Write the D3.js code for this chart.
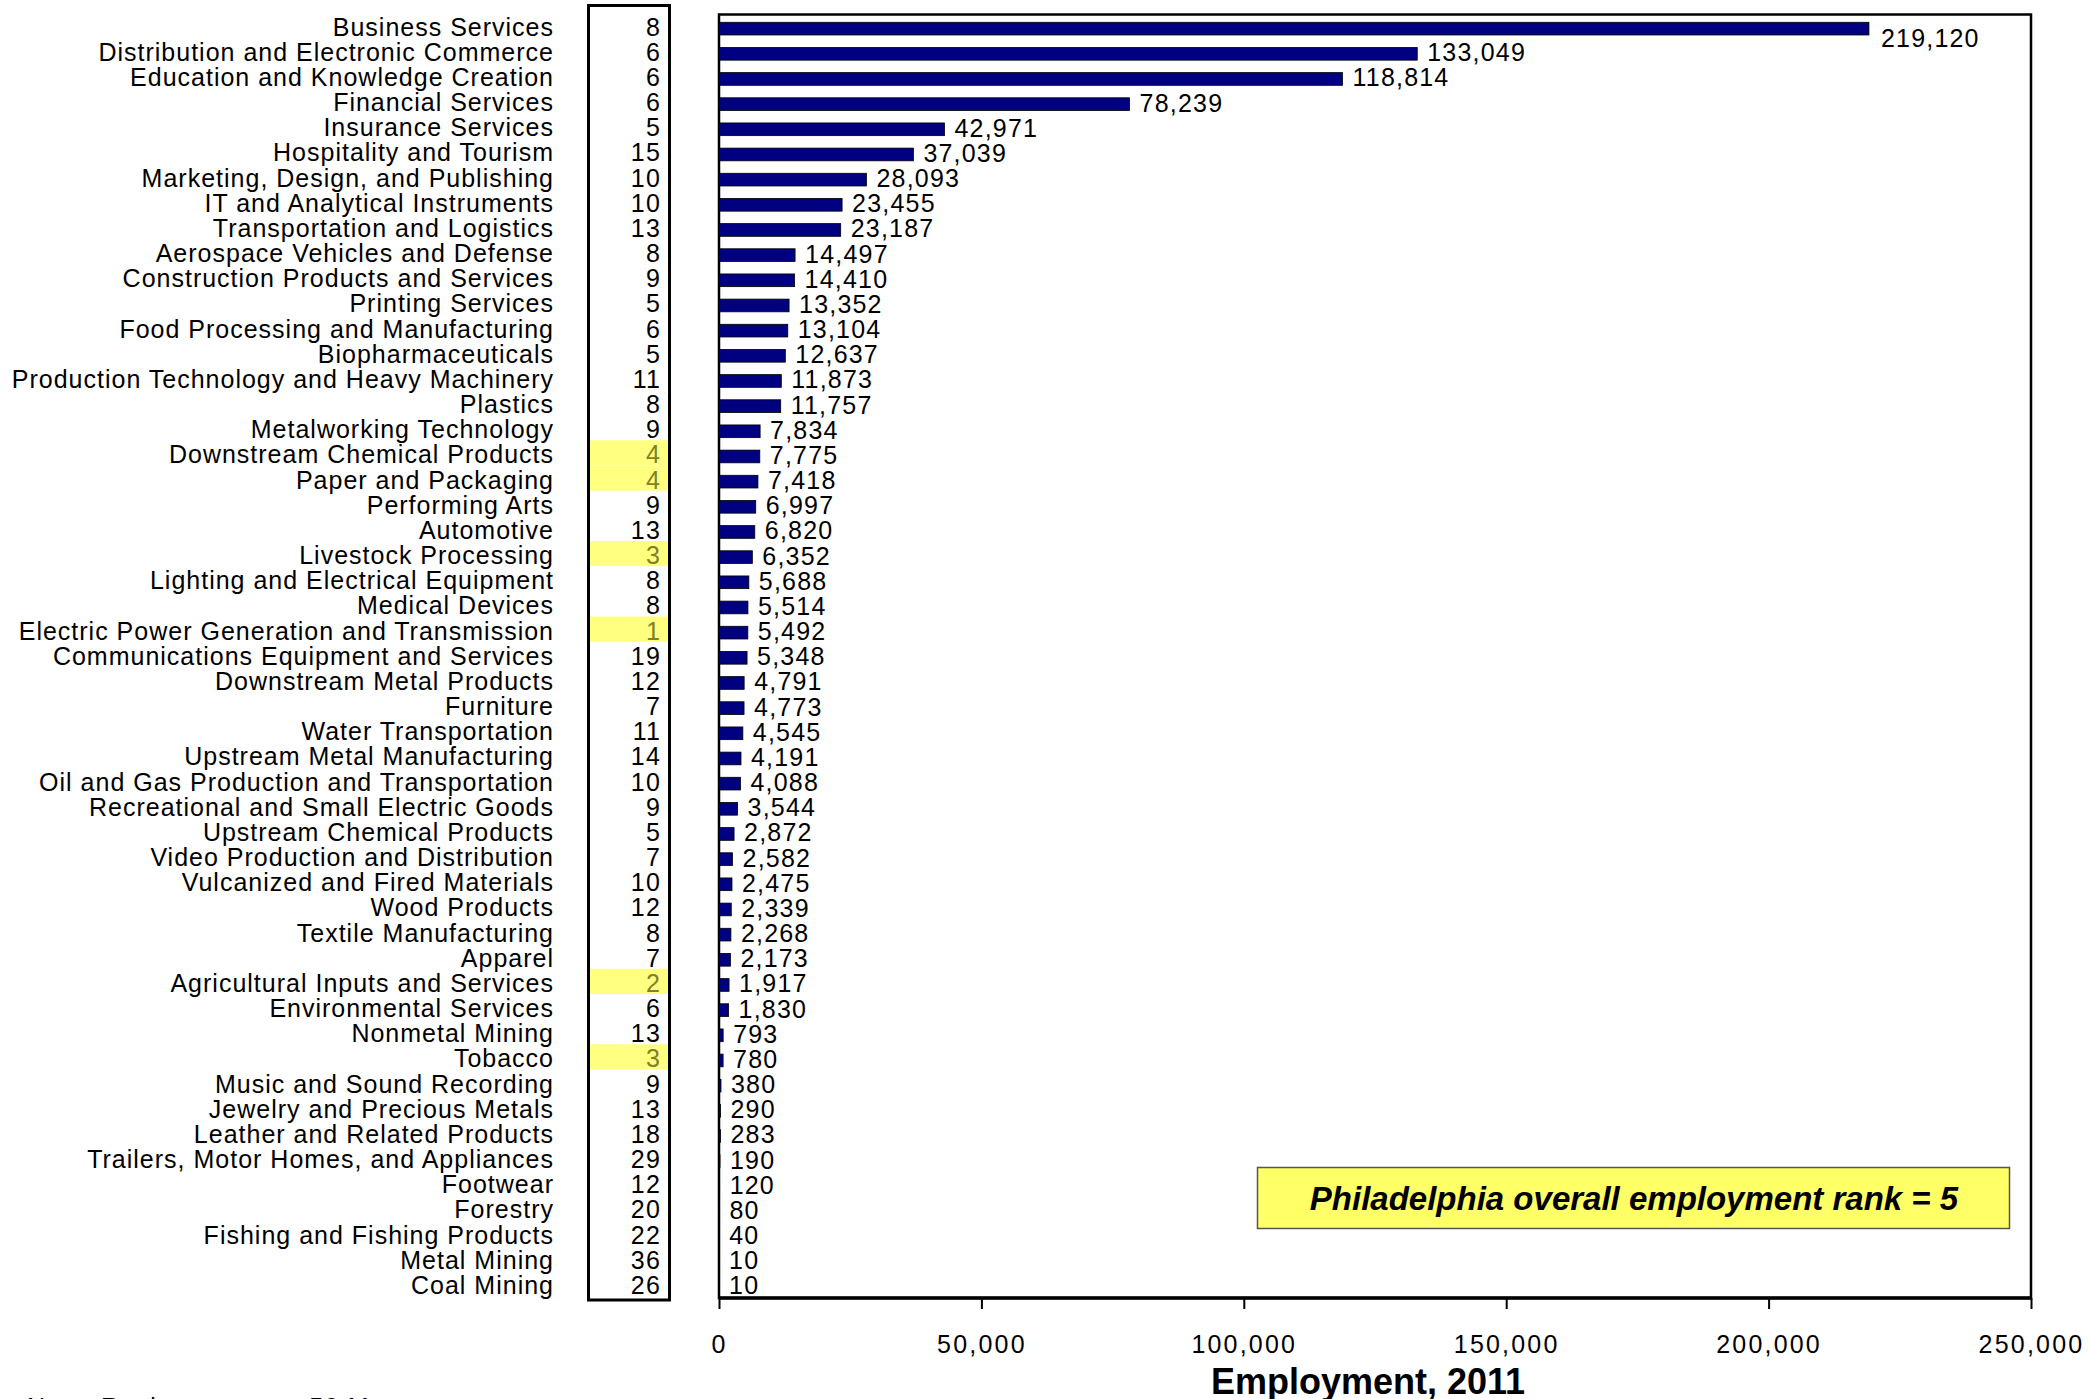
<!DOCTYPE html>
<html>
<head>
<meta charset="utf-8">
<style>
	body { margin: 0; background: #fff; }
	text { font-family: "Liberation Sans", Arial, sans-serif; fill: #000; }
</style>
</head>
<body>
<svg id="chart" width="2091" height="1399"></svg>
<script src="https://cdnjs.cloudflare.com/ajax/libs/d3/7.8.5/d3.min.js"></script>
<script>

	var categories = ["Business Services", "Distribution and Electronic Commerce", "Education and Knowledge Creation",
		"Financial Services", "Insurance Services", "Hospitality and Tourism", "Marketing, Design, and Publishing",
		"IT and Analytical Instruments", "Transportation and Logistics", "Aerospace Vehicles and Defense",
		"Construction Products and Services", "Printing Services", "Food Processing and Manufacturing",
		"Biopharmaceuticals", "Production Technology and Heavy Machinery", "Plastics", "Metalworking Technology",
		"Downstream Chemical Products", "Paper and Packaging", "Performing Arts", "Automotive", "Livestock Processing",
		"Lighting and Electrical Equipment", "Medical Devices", "Electric Power Generation and Transmission",
		"Communications Equipment and Services", "Downstream Metal Products", "Furniture", "Water Transportation",
		"Upstream Metal Manufacturing", "Oil and Gas Production and Transportation", "Recreational and Small Electric Goods",
		"Upstream Chemical Products", "Video Production and Distribution", "Vulcanized and Fired Materials",
		"Wood Products", "Textile Manufacturing", "Apparel", "Agricultural Inputs and Services",
		"Environmental Services", "Nonmetal Mining", "Tobacco", "Music and Sound Recording",
		"Jewelry and Precious Metals", "Leather and Related Products", "Trailers, Motor Homes, and Appliances",
		"Footwear", "Forestry", "Fishing and Fishing Products", "Metal Mining", "Coal Mining"];

	var employment = [219120, 133049, 118814, 78239, 42971, 37039, 28093, 23455, 23187, 14497,
		14410, 13352, 13104, 12637, 11873, 11757, 7834, 7775, 7418, 6997,
		6820, 6352, 5688, 5514, 5492, 5348, 4791, 4773, 4545, 4191,
		4088, 3544, 2872, 2582, 2475, 2339, 2268, 2173, 1917, 1830,
		793, 780, 380, 290, 283, 190, 120, 80, 40, 10, 10];

	var ranks = [8, 6, 6, 6, 5, 15, 10, 10, 13, 8,
		9, 5, 6, 5, 11, 8, 9, 4, 4, 9,
		13, 3, 8, 8, 1, 19, 12, 7, 11, 14,
		10, 9, 5, 7, 10, 12, 8, 7, 2, 6,
		13, 3, 9, 13, 18, 29, 12, 20, 22, 36, 26];

	var xTicks = [0, 50000, 100000, 150000, 200000, 250000];
	var overallRank = 5;
	var axisTitle = "Employment, 2011";
	var calloutText = "Philadelphia overall employment rank = " + overallRank;
	var noteText = "Note: Rank among top 50 Metros";

	var rows = categories.map(function(c, i){
		return { name: c, value: employment[i], rank: ranks[i] };
	});

	var svg = d3.select("#chart");
	var fmt = d3.format(",");

	// layout
	var plotL = 719, plotR = 2031, plotT = 14.5, plotB = 1298;
	var boxL = 588.5, boxR = 669.5;

	var x = d3.scaleLinear().domain([0, 250000]).range([plotL, plotR]);
	var y = d3.scaleBand().domain(categories).range([plotT, plotB]).padding(0);
	var mid = function(d){ return y(d.name) + y.bandwidth() / 2; };

	// highlighted rank cells (better than overall rank)
	svg.append("g").selectAll("rect")
		.data(rows.filter(function(d){ return d.rank < overallRank; }))
		.enter().append("rect")
		.attr("x", boxL + 1)
		.attr("y", function(d){ return y(d.name) - 2; })
		.attr("width", boxR - boxL - 2)
		.attr("height", y.bandwidth())
		.attr("fill", "#ffff80");

	// rank box
	svg.append("rect")
		.attr("x", boxL).attr("y", 5.5)
		.attr("width", boxR - boxL).attr("height", 1300 - 5.5)
		.attr("fill", "none").attr("stroke", "#000").attr("stroke-width", 3);

	// category labels
	svg.append("g").selectAll("text")
		.data(rows).enter().append("text")
		.attr("x", 554)
		.attr("y", function(d){ return mid(d) + 8.5; })
		.attr("text-anchor", "end")
		.style("font-size", "25px")
		.style("letter-spacing", "1px")
		.text(function(d){ return d.name; });

	// rank numbers
	svg.append("g").selectAll("text")
		.data(rows).enter().append("text")
		.attr("x", 661)
		.attr("y", function(d){ return mid(d) + 8.5; })
		.attr("text-anchor", "end")
		.style("font-size", "25px")
		.style("letter-spacing", "1.2px")
		.style("fill", function(d){ return d.rank < overallRank ? "#80802a" : "#000"; })
		.text(function(d){ return d.rank; });

	// plot frame
	svg.append("rect")
		.attr("x", plotL).attr("y", plotT)
		.attr("width", plotR - plotL).attr("height", plotB - plotT)
		.attr("fill", "none").attr("stroke", "#000").attr("stroke-width", 2.5);

	// bars
	svg.append("g").selectAll("rect")
		.data(rows).enter().append("rect")
		.attr("x", x(0))
		.attr("y", function(d){ return mid(d) - 4.8; })
		.attr("width", function(d){ return x(d.value) - x(0); })
		.attr("height", 12.7)
		.attr("fill", "#000080")
		.attr("stroke", "#000")
		.attr("stroke-width", 0.8);

	// value labels
	svg.append("g").selectAll("text")
		.data(rows).enter().append("text")
		.attr("x", function(d, i){ return x(d.value) + (i == 0 ? 12 : 10); })
		.attr("y", function(d, i){ return mid(d) + 9 + (i == 0 ? 11 : 0); })
		.style("font-size", "25px")
		.style("letter-spacing", "1.2px")
		.text(function(d){ return fmt(d.value); });

	// x axis
	var xAxis = d3.axisBottom(x).tickValues(xTicks).tickSize(11).tickPadding(26).tickFormat(fmt);
	var ax = svg.append("g").attr("transform", "translate(0," + plotB + ")").call(xAxis);
	ax.select(".domain").attr("stroke-width", 3.5).attr("d", "M" + plotL + ",0H" + plotR);
	ax.selectAll(".tick line").attr("stroke-width", 2);
	ax.selectAll(".tick text")
		.style("font-family", "'Liberation Sans', Arial, sans-serif")
		.style("font-size", "25px")
		.style("letter-spacing", "2.2px")
		.attr("fill", "#000");

	svg.append("text")
		.attr("x", 1368).attr("y", 1394)
		.attr("text-anchor", "middle")
		.style("font-size", "36px")
		.style("font-weight", "bold")
		.text(axisTitle);

	// callout
	svg.append("rect")
		.attr("x", 1257.5).attr("y", 1167.5)
		.attr("width", 752).attr("height", 61)
		.attr("fill", "#ffff66").attr("stroke", "#555").attr("stroke-width", 1.5);
	svg.append("text")
		.attr("x", 1634).attr("y", 1210)
		.attr("text-anchor", "middle")
		.style("font-size", "33px")
		.style("font-weight", "bold")
		.style("font-style", "italic")
		.text(calloutText);

	// footnote, mostly cut off at the bottom edge
	svg.append("text")
		.attr("x", 27).attr("y", 1416)
		.style("font-size", "25px")
		.style("letter-spacing", "1.2px")
		.text(noteText);

</script>
</body>
</html>
